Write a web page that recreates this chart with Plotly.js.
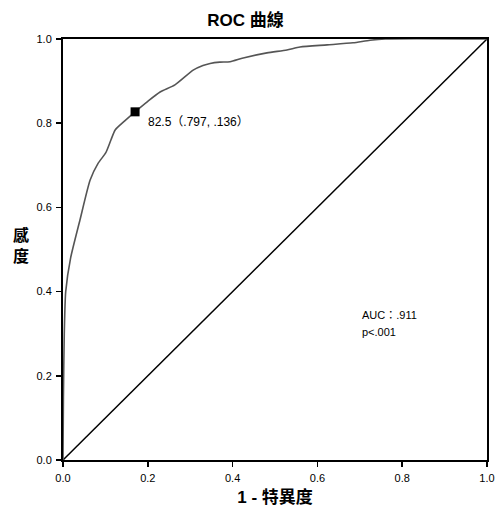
<!DOCTYPE html>
<html>
<head>
<meta charset="utf-8">
<script src="https://cdn.plot.ly/plotly-3.0.1.min.js"></script>
<style>html,body{margin:0;padding:0;background:#fff;}</style>
</head>
<body>
<div id="chart" style="width:496px;height:507px;"></div>
<script>
// ROC curve
const fpr = [0, 0.001, 0.003, 0.0064, 0.018, 0.040, 0.064, 0.083, 0.101, 0.113, 0.123, 0.145, 0.170, 0.200, 0.229, 0.264, 0.307, 0.330, 0.347, 0.370, 0.394, 0.425, 0.481, 0.528, 0.559, 0.623, 0.684, 0.724, 0.76, 1.0];
const tpr = [0, 0.15, 0.30, 0.40, 0.48, 0.57, 0.665, 0.705, 0.73, 0.76, 0.784, 0.805, 0.827, 0.852, 0.874, 0.891, 0.926, 0.937, 0.942, 0.945, 0.946, 0.955, 0.967, 0.974, 0.981, 0.986, 0.991, 0.997, 1.0, 1.0];
const refX = [0, 1];
const refY = [0, 1];
const cutX = [0.170];
const cutY = [0.827];
const cutLabel = "82.5（.797, .136）";
const tickVals = [0, 0.2, 0.4, 0.6, 0.8, 1.0];
const tickText = ["0.0", "0.2", "0.4", "0.6", "0.8", "1.0"];
const statsText = ["AUC：.911", "p<.001"];

const FONT = "Liberation Sans, Arial, Noto Sans CJK TC, sans-serif";

const traces = [
  {x: refX, y: refY, mode: "lines", line: {color: "#000", width: 1.5}, hoverinfo: "skip"},
  {x: fpr, y: tpr, mode: "lines", line: {color: "#555", width: 1.6, shape: "spline", smoothing: 0.6}, hoverinfo: "skip"},
  {x: cutX, y: cutY, mode: "markers", marker: {symbol: "square", color: "#000", size: 9}, hoverinfo: "skip"}
];

const axisCommon = {
  range: [0, 1], tickvals: tickVals, ticktext: tickText,
  ticks: "outside", ticklen: 5, tickwidth: 1.5, tickcolor: "#000",
  showline: true, linecolor: "#000", linewidth: 2, mirror: true,
  showgrid: false, zeroline: false,
  tickfont: {family: FONT, size: 11, color: "#000"}
};

const layout = {
  width: 496, height: 507,
  margin: {l: 63, r: 9, t: 39, b: 47},
  paper_bgcolor: "#fff", plot_bgcolor: "#fff",
  showlegend: false,
  title: {text: "<b>ROC 曲線</b>", font: {family: FONT, size: 17, color: "#000"}, x: 0.495, xanchor: "center", y: 0.96, yanchor: "middle"},
  xaxis: Object.assign({}, axisCommon, {title: {text: "<b>1 - 特異度</b>", font: {family: FONT, size: 17, color: "#000"}, standoff: 10}, ticklabelstandoff: 2}),
  yaxis: Object.assign({}, axisCommon, {ticklabelstandoff: 2}),
  annotations: [
    {xref: "paper", yref: "paper", x: -0.10, y: 0.51, text: "<b>感<br>度</b>", showarrow: false, font: {family: FONT, size: 16, color: "#000"}, xanchor: "center", yanchor: "middle"},
    {xref: "x", yref: "y", x: cutX[0], y: cutY[0], text: cutLabel, showarrow: false, xanchor: "left", yanchor: "middle", xshift: 11, yshift: -10, font: {family: FONT, size: 12, color: "#000"}},
    {xref: "x", yref: "y", x: 0.70, y: 0.345, text: statsText[0], showarrow: false, xanchor: "left", yanchor: "middle", font: {family: FONT, size: 11, color: "#000"}},
    {xref: "x", yref: "y", x: 0.70, y: 0.305, text: statsText[1], showarrow: false, xanchor: "left", yanchor: "middle", font: {family: FONT, size: 11, color: "#000"}}
  ]
};

Plotly.newPlot("chart", traces, layout, {staticPlot: true, displayModeBar: false});
</script>
</body>
</html>
